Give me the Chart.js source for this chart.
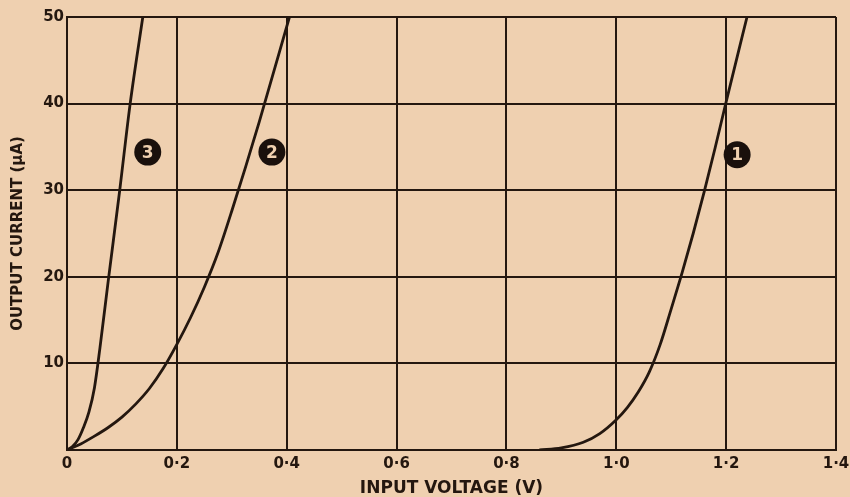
<!DOCTYPE html>
<html>
<head>
<meta charset="utf-8">
<script src="https://cdn.jsdelivr.net/npm/chart.js@4/dist/chart.umd.min.js"></script>
<style>
  html, body { margin: 0; padding: 0; background: #efd0b0; }
  #wrap { width: 850px; height: 497px; }
</style>
</head>
<body>
<div id="wrap"><canvas id="chart" width="850" height="497"></canvas></div>
<script>
"use strict";
// curve 1, 2 and 3 (volts, microamps)
const curve1X = [0.86, 0.9, 0.94, 0.97, 1.0, 1.02, 1.04, 1.06, 1.08, 1.1, 1.12, 1.14, 1.16, 1.18, 1.2, 1.238];
const curve1Y = [0, 0.25, 0.9, 1.9, 3.5, 4.9, 6.7, 9.0, 12.2, 16.3, 20.5, 25.0, 29.8, 34.9, 40.2, 50];
const curve2X = [0, 0.025, 0.05, 0.075, 0.1, 0.125, 0.15, 0.175, 0.2, 0.225, 0.25, 0.275, 0.3, 0.35, 0.405];
const curve2Y = [0, 0.7, 1.6, 2.6, 3.8, 5.3, 7.1, 9.4, 12.2, 15.3, 18.8, 22.8, 27.6, 37.9, 50];
const curve3X = [0, 0.01, 0.02, 0.03, 0.04, 0.05, 0.06, 0.075, 0.096, 0.115, 0.138];
const curve3Y = [0, 0.4, 1.2, 2.6, 4.4, 7.2, 11.8, 19.5, 30, 40, 50];
// circled curve numbers
const markerText = ['1', '2', '3'];
const markerX = [1.22, 0.373, 0.147];
const markerY = [34.1, 34.4, 34.4];
const xTicks = [0, 0.2, 0.4, 0.6, 0.8, 1.0, 1.2, 1.4];
const yTicks = [0, 10, 20, 30, 40, 50];

const ink = '#24170f';
const paper = '#efd0b0';

function toPoints(xs, ys) {
    let pts = [];
    for (let i = 0; i < xs.length; i++) {
        pts.push({x: xs[i], y: ys[i]});
    }
    return pts;
}

function curveDataset(xs, ys) {
    return {
        type: 'line',
        data: toPoints(xs, ys),
        borderColor: ink,
        borderWidth: 2.8,
        pointRadius: 0,
        fill: false,
        cubicInterpolationMode: 'monotone'
    };
}

const paperPlugin = {
    id: 'paper',
    beforeDraw(chart) {
        const ctx = chart.ctx;
        ctx.save();
        ctx.fillStyle = paper;
        ctx.fillRect(0, 0, chart.width, chart.height);
        ctx.restore();
    }
};

// white digits on top of the black marker dots
const markerLabels = {
    id: 'markerLabels',
    afterDatasetsDraw(chart) {
        const ctx = chart.ctx;
        const meta = chart.getDatasetMeta(3);
        ctx.save();
        ctx.fillStyle = paper;
        ctx.font = 'bold 17px "DejaVu Sans"';
        ctx.textAlign = 'center';
        ctx.textBaseline = 'middle';
        meta.data.forEach(function (pt, i) {
            ctx.fillText(markerText[i], pt.x, pt.y + 1);
        });
        ctx.restore();
    }
};

const tickFont = {family: '"DejaVu Sans"', weight: 'bold', size: 15};

new Chart(document.getElementById('chart'), {
    type: 'scatter',
    data: {
        datasets: [
            curveDataset(curve1X, curve1Y),
            curveDataset(curve2X, curve2Y),
            curveDataset(curve3X, curve3Y),
            {
                type: 'scatter',
                data: toPoints(markerX, markerY),
                pointRadius: 13.5,
                pointBackgroundColor: '#1a100c',
                pointBorderColor: '#1a100c',
                pointBorderWidth: 0
            }
        ]
    },
    options: {
        responsive: false,
        animation: false,
        layout: {padding: {left: 0, right: 14, top: 17, bottom: 0}},
        plugins: {
            legend: {display: false},
            tooltip: {enabled: false}
        },
        scales: {
            x: {
                type: 'linear',
                min: 0,
                max: 1.4,
                afterFit(scale) {
                    scale.height = 47;
                    scale.paddingLeft = 0;
                    scale.paddingRight = 0;
                },
                afterBuildTicks(scale) { scale.ticks = xTicks.map(v => ({value: v})); },
                ticks: {
                    color: ink,
                    font: tickFont,
                    padding: 5,
                    maxRotation: 0,
                    callback: v => v === 0 ? '0' : v.toFixed(1).replace('.', '·')
                },
                grid: {color: ink, lineWidth: 2, drawTicks: false},
                border: {color: ink, width: 2},
                title: {
                    display: true,
                    text: 'INPUT VOLTAGE (V)',
                    color: ink,
                    font: {family: '"DejaVu Sans"', weight: 'bold', size: 17, lineHeight: 1.0},
                    padding: {top: 0, bottom: 0}
                }
            },
            y: {
                type: 'linear',
                min: 0,
                max: 50,
                afterFit(scale) {
                    scale.width = 67;
                    scale.paddingTop = 0;
                    scale.paddingBottom = 0;
                },
                afterBuildTicks(scale) { scale.ticks = yTicks.map(v => ({value: v})); },
                ticks: {
                    color: ink,
                    font: tickFont,
                    padding: 3,
                    callback: v => v === 0 ? '' : String(v)
                },
                grid: {color: ink, lineWidth: 2, drawTicks: false},
                border: {color: ink, width: 2},
                title: {
                    display: true,
                    text: 'OUTPUT CURRENT (µA)',
                    color: ink,
                    font: {family: '"DejaVu Sans"', weight: 'bold', size: 15},
                    padding: {top: 9, bottom: 0}
                }
            }
        }
    },
    plugins: [paperPlugin, markerLabels]
});
</script>
</body>
</html>
